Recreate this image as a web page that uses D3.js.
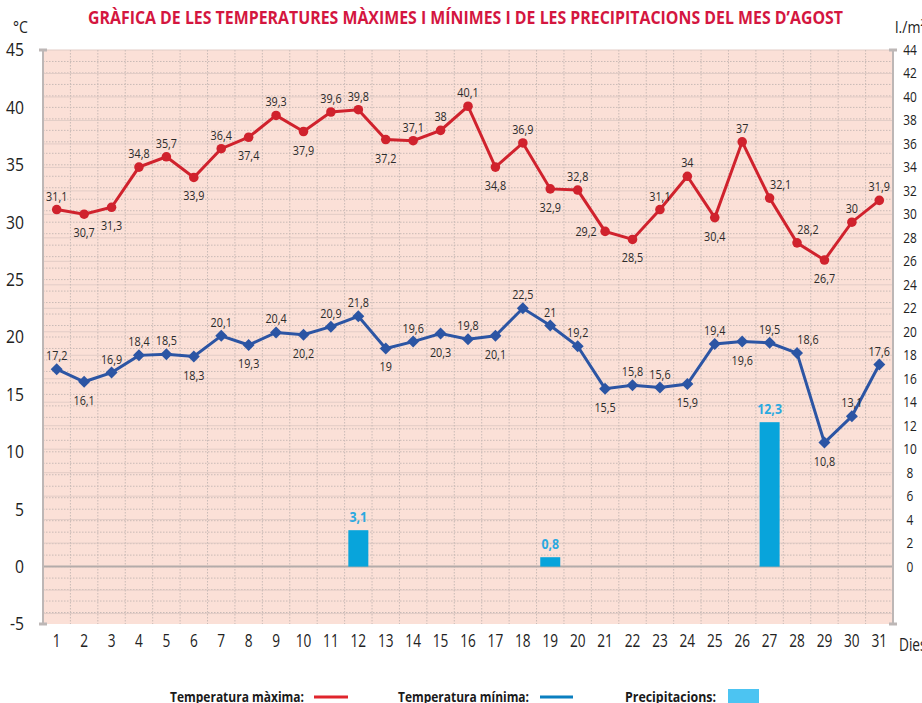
<!DOCTYPE html>
<html>
<head>
<meta charset="utf-8">
<script src="https://cdn.jsdelivr.net/npm/d3@7"></script>
<style>
  body { margin: 0; background: #fff; overflow: hidden; }
  text { font-family: "Open Sans", "Noto Sans", sans-serif; }
</style>
</head>
<body>
<div id="chart-area"></div>
<script>
// data
let days = d3.range(1, 32);
let tMax = [31.1, 30.7, 31.3, 34.8, 35.7, 33.9, 36.4, 37.4, 39.3, 37.9, 39.6, 39.8, 37.2, 37.1, 38, 40.1,
  34.8, 36.9, 32.9, 32.8, 29.2, 28.5, 31.1, 34, 30.4, 37, 32.1, 28.2, 26.7, 30, 31.9];
let tMin = [17.2, 16.1, 16.9, 18.4, 18.5, 18.3, 20.1, 19.3, 20.4, 20.2, 20.9, 21.8, 19, 19.6, 20.3, 19.8,
  20.1, 22.5, 21, 19.2, 15.5, 15.8, 15.6, 15.9, 19.4, 19.6, 19.5, 18.6, 10.8, 13.1, 17.6];
let rain = [0, 0, 0, 0, 0, 0, 0, 0, 0, 0, 0, 3.1, 0, 0, 0, 0, 0, 0, 0.8, 0, 0, 0, 0, 0, 0, 0, 12.3, 0, 0, 0, 0];
let leftTicks = d3.range(-5, 46, 5);
let rightTicks = d3.range(0, 45, 2);

// where each value label sits: a = above, b = below, l = left, ar = above right
let maxPos = "a b b a a b a b a b a a b a a a b a b a l b a a b a ar ar b a a".split(" ");
let minPos = "a b a a a b a b a b a a b a b a b a a a b a a b a b a ar b a a".split(" ");

let W = 922, H = 703;
let margin = { left: 43, right: 29, top: 50, bottom: 79 };

let svg = d3.select("#chart-area")
  .append("svg")
  .attr("width", W)
  .attr("height", H);

let x = d3.scaleBand()
  .domain(days)
  .range([margin.left, W - margin.right]);

let y = d3.scaleLinear()
  .domain([-5, 45])
  .range([H - margin.bottom, margin.top]);

let yR = d3.scaleLinear()
  .domain([0, 44])
  .range([y(0), margin.top]);

let fmt = d => String(d).replace(".", ",");

// condensed look: squeeze text horizontally around its own x
function squeeze(sel, k) {
  sel.each(function() {
    let t = d3.select(this);
    let tx = +t.attr("x") || 0;
    t.attr("transform", "translate(" + (tx * (1 - k)) + ",0) scale(" + k + ",1)");
  });
}

// plot background
svg.append("rect")
  .attr("x", margin.left)
  .attr("y", margin.top)
  .attr("width", W - margin.left - margin.right)
  .attr("height", y(-5) - margin.top)
  .attr("fill", "#fbe0d7");

// grid: dotted every degree, solid every 2 l/m2
svg.append("g")
  .selectAll("line")
  .data(d3.range(-4, 45))
  .enter()
  .append("line")
  .attr("x1", margin.left)
  .attr("x2", W - margin.right)
  .attr("y1", d => y(d))
  .attr("y2", d => y(d))
  .attr("stroke", "#c9bab6")
  .attr("stroke-dasharray", "1.5,1.5");

svg.append("g")
  .selectAll("line")
  .data(d3.range(-4, 45, 2).filter(d => yR(d) < y(-5) - 2 && d != 0))
  .enter()
  .append("line")
  .attr("x1", margin.left)
  .attr("x2", W - margin.right)
  .attr("y1", d => yR(d))
  .attr("y2", d => yR(d))
  .attr("stroke", "#e2ccc6");

svg.append("g")
  .selectAll("line")
  .data(days.slice(1))
  .enter()
  .append("line")
  .attr("x1", d => x(d))
  .attr("x2", d => x(d))
  .attr("y1", margin.top)
  .attr("y2", y(-5))
  .attr("stroke", "#c9bab6")
  .attr("stroke-dasharray", "1.5,1.5");

// zero line
svg.append("line")
  .attr("x1", margin.left)
  .attr("x2", W - margin.right)
  .attr("y1", y(0))
  .attr("y2", y(0))
  .attr("stroke", "#b3abaa")
  .attr("stroke-width", 2);

// left axis
let yAxisCall = d3.axisLeft(y)
  .tickValues(leftTicks)
  .tickSize(0)
  .tickFormat(d => d < 0 ? "-" + Math.abs(d) : d);
let gL = svg.append("g")
  .attr("class", "y axis")
  .attr("transform", "translate(" + margin.left + ",0)")
  .call(yAxisCall);
gL.select(".domain").remove();
gL.selectAll("text")
  .attr("font-size", "18.5px")
  .attr("fill", "#222")
  .attr("x", -19);
squeeze(gL.selectAll("text"), 0.85);

// right axis
let yRAxisCall = d3.axisRight(yR)
  .tickValues(rightTicks)
  .tickSize(0);
let gR = svg.append("g")
  .attr("class", "y axis right")
  .attr("transform", "translate(" + (W - margin.right) + ",0)")
  .call(yRAxisCall);
gR.select(".domain").remove();
gR.selectAll("text")
  .attr("font-size", "14px")
  .attr("fill", "#222")
  .attr("text-anchor", "middle")
  .attr("x", 17);
squeeze(gR.selectAll("text"), 0.85);

// axis frame lines
[margin.left, W - margin.right].forEach(px => {
  svg.append("line")
    .attr("x1", px).attr("x2", px)
    .attr("y1", margin.top).attr("y2", y(-5))
    .attr("stroke", "#bdb7b6")
    .attr("stroke-width", 2);
  [margin.top, y(-5)].forEach(py => {
    svg.append("line")
      .attr("x1", px - 4).attr("x2", px + 4)
      .attr("y1", py).attr("y2", py)
      .attr("stroke", "#bdb7b6").attr("stroke-width", 3);
  });
});

// x axis
let xAxisCall = d3.axisBottom(x).tickSize(0).tickPadding(11);
let gX = svg.append("g")
  .attr("class", "x axis")
  .attr("transform", "translate(0," + y(-5) + ")")
  .call(xAxisCall);
gX.select(".domain").remove();
gX.selectAll("text")
  .attr("font-size", "17.5px")
  .attr("fill", "#222");
squeeze(gX.selectAll("text"), 0.78);

let dies = svg.append("text")
  .attr("x", 899)
  .attr("y", 651)
  .attr("font-size", "17.5px")
  .attr("fill", "#222")
  .text("Dies");
squeeze(dies, 0.78);

// units
let units = svg.append("g").attr("font-size", "16px").attr("fill", "#222");
units.append("text").attr("x", 13).attr("y", 33).text("°C");
units.append("text").attr("x", 895).attr("y", 33).text("l./m²");
squeeze(units.selectAll("text"), 0.88);

// title
svg.append("text")
  .attr("x", 465.5)
  .attr("y", 24)
  .attr("text-anchor", "middle")
  .attr("font-size", "17px")
  .attr("font-weight", "bold")
  .attr("fill", "#d4163f")
  .attr("textLength", 755)
  .attr("lengthAdjust", "spacingAndGlyphs")
  .text("GRÀFICA DE LES TEMPERATURES MÀXIMES I MÍNIMES I DE LES PRECIPITACIONS DEL MES D’AGOST");

// precipitation bars
let rainData = days.map((d, i) => ({ day: d, v: rain[i] })).filter(d => d.v > 0);
svg.selectAll("rect.rain")
  .data(rainData)
  .enter()
  .append("rect")
  .attr("class", "rain")
  .attr("x", d => x(d.day) + x.bandwidth() / 2 - 10)
  .attr("width", 20)
  .attr("y", d => yR(d.v))
  .attr("height", d => yR(0) - yR(d.v))
  .attr("fill", "#08a4db");
let rainLbl = svg.selectAll("text.rain")
  .data(rainData)
  .enter()
  .append("text")
  .attr("class", "rain")
  .attr("x", d => x(d.day) + x.bandwidth() / 2)
  .attr("y", d => yR(d.v) - 8)
  .attr("text-anchor", "middle")
  .attr("font-size", "14.5px")
  .attr("font-weight", "bold")
  .attr("fill", "#2aa9e0")
  .text(d => fmt(d.v));
squeeze(rainLbl, 0.85);

// temperature series
let cx = d => x(d) + x.bandwidth() / 2;

function drawSeries(vals, pos, color, shape) {
  let pts = days.map((d, i) => ({ day: d, v: vals[i], p: pos[i] }));
  svg.append("path")
    .datum(pts)
    .attr("fill", "none")
    .attr("stroke", color)
    .attr("stroke-width", 3)
    .attr("d", d3.line().x(d => cx(d.day)).y(d => y(d.v)));
  svg.selectAll(null)
    .data(pts)
    .enter()
    .append("path")
    .attr("transform", d => "translate(" + cx(d.day) + "," + y(d.v) + ")" + (shape == d3.symbolSquare ? " rotate(45)" : ""))
    .attr("d", d3.symbol().type(shape).size(72))
    .attr("fill", color);
  let lbl = svg.selectAll(null)
    .data(pts)
    .enter()
    .append("text")
    .attr("x", d => cx(d.day) + (d.p == "l" ? -19 : d.p == "ar" ? 11 : 0))
    .attr("y", d => y(d.v) + (d.p == "b" ? 23 : d.p == "l" ? 5 : -9))
    .attr("text-anchor", "middle")
    .attr("font-size", "13.5px")
    .attr("fill", "#2b2b2b")
    .text(d => fmt(d.v));
  squeeze(lbl, 0.8);
}

drawSeries(tMax, maxPos, "#d0222d", d3.symbolCircle);
drawSeries(tMin, minPos, "#2c55a4", d3.symbolSquare);

// legend
let legend = svg.append("g").attr("font-size", "15px").attr("font-weight", "bold").attr("fill", "#1a1a1a");
legend.append("text").attr("x", 170).attr("y", 702).attr("textLength", 134)
  .attr("lengthAdjust", "spacingAndGlyphs").text("Temperatura màxima:");
legend.append("line").attr("x1", 314).attr("x2", 348).attr("y1", 697).attr("y2", 697)
  .attr("stroke", "#e0252c").attr("stroke-width", 3);
legend.append("text").attr("x", 398).attr("y", 702).attr("textLength", 131)
  .attr("lengthAdjust", "spacingAndGlyphs").text("Temperatura mínima:");
legend.append("line").attr("x1", 540).attr("x2", 573).attr("y1", 697).attr("y2", 697)
  .attr("stroke", "#0a7fc0").attr("stroke-width", 3);
legend.append("text").attr("x", 625).attr("y", 702).attr("textLength", 91)
  .attr("lengthAdjust", "spacingAndGlyphs").text("Precipitacions:");
legend.append("rect").attr("x", 728).attr("y", 689).attr("width", 31).attr("height", 14)
  .attr("fill", "#4cc4f2");
</script>
</body>
</html>
